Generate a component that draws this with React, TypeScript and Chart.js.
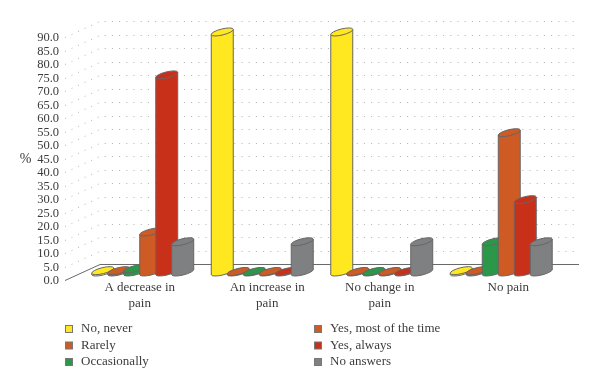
import React, { useEffect, useRef } from "react";
import { Chart, registerables } from "chart.js";

Chart.register(...registerables);

const categories = [["A decrease in", "pain"], ["An increase in", "pain"], ["No change in", "pain"], ["No pain"]];
const noNever = [0.5, 88.9, 88.9, 0.5];
const rarely = [0.5, 0.2, 0.2, 0.5];
const occasionally = [1.2, 0.2, 0.2, 11.2];
const mostOfTime = [14.8, 0.2, 0.2, 51.6];
const always = [73, 0.2, 0.2, 26.8];
const noAnswers = [11.2, 11.2, 11.2, 11.2];

const seriesNames = ["No, never", "Rarely", "Occasionally", "Yes, most of the time", "Yes, always", "No answers"];
const seriesColors = ["#FFE81F", "#CE5A24", "#2A9848", "#CE5A24", "#C9301A", "#7F8082"];
const seriesValues = [noNever, rarely, occasionally, mostOfTime, always, noAnswers];

const FONT = '"Liberation Serif", serif';
const TEXT = "#3c3c3c";
const depth = { x: 35, y: -16 };
const barOffset = { x: 18, y: -8 };
const labelShift = [15, 23, 16, 25];

const wallsPlugin = {
  id: "walls",
  beforeDatasetsDraw(chart: any) {
    const { ctx, scales, chartArea } = chart;
    const y = scales.y;
    ctx.save();
    ctx.lineWidth = 1;
    y.ticks.forEach((t: any) => {
      const py = Math.round(y.getPixelForValue(t.value)) + 0.5;
      const isFloor = t.value === 0;
      ctx.strokeStyle = isFloor ? "#6a6a6a" : "#b0b0b0";
      ctx.setLineDash(isFloor ? [] : [1, 6.2]);
      ctx.beginPath();
      ctx.moveTo(chartArea.left, py);
      ctx.lineTo(chartArea.left + depth.x, py + depth.y);
      ctx.lineTo(chartArea.right + depth.x + 1, py + depth.y);
      ctx.stroke();
    });
    ctx.restore();
  },
};

const cylinderPlugin = {
  id: "cylinders",
  beforeDatasetsDraw(chart: any) {
    const { ctx, scales } = chart;
    const base = scales.y.getPixelForValue(0) + barOffset.y;
    const tilt = (-14 * Math.PI) / 180;
    const ry = 3;
    chart.data.datasets.forEach((ds: any, di: number) => {
      chart.getDatasetMeta(di).data.forEach((bar: any) => {
        const rx = bar.width / 2;
        const dy = rx * Math.sin(-tilt) * 0.95;
        const cx = bar.x + barOffset.x;
        const top = bar.y + barOffset.y;
        ctx.save();
        ctx.fillStyle = ds.backgroundColor;
        ctx.strokeStyle = "#666666";
        ctx.lineWidth = 1;
        ctx.beginPath();
        ctx.ellipse(cx, base, rx + 0.4, ry, tilt, 0, Math.PI * 2);
        ctx.fill();
        ctx.stroke();
        ctx.beginPath();
        ctx.moveTo(cx - rx, top + dy);
        ctx.lineTo(cx - rx, base + dy);
        ctx.lineTo(cx + rx, base - dy);
        ctx.lineTo(cx + rx, top - dy);
        ctx.closePath();
        ctx.fill();
        ctx.beginPath();
        ctx.moveTo(cx - rx, top + dy);
        ctx.lineTo(cx - rx, base + dy);
        ctx.moveTo(cx + rx, top - dy);
        ctx.lineTo(cx + rx, base - dy);
        ctx.stroke();
        ctx.beginPath();
        ctx.ellipse(cx, top, rx + 0.4, ry, tilt, 0, Math.PI * 2);
        ctx.fill();
        ctx.stroke();
        ctx.restore();
      });
    });
    return false;
  },
};

const labelShiftPlugin = {
  id: "labelShift",
  afterUpdate(chart: any) {
    chart.scales.x.getLabelItems().forEach((item: any, i: number) => {
      item.options.translation[0] += labelShift[i] ?? 0;
    });
    chart.scales.y.getLabelItems().forEach((item: any) => {
      item.options.translation[1] += 1;
    });
  },
};

const legendPlugin = {
  id: "gridLegend",
  afterDraw(chart: any) {
    const { ctx } = chart;
    const columns = [65, 314];
    const rows = [329, 345.5, 362];
    ctx.save();
    ctx.font = `13px ${FONT}`;
    ctx.textBaseline = "middle";
    ctx.textAlign = "left";
    chart.data.datasets.forEach((ds: any, i: number) => {
      const x = columns[Math.floor(i / 3)];
      const y = rows[i % 3];
      ctx.fillStyle = ds.backgroundColor;
      ctx.strokeStyle = "#777";
      ctx.lineWidth = 1;
      ctx.fillRect(x + 0.5, y - 3.5, 7, 7);
      ctx.strokeRect(x + 0.5, y - 3.5, 7, 7);
      ctx.fillStyle = TEXT;
      ctx.fillText(ds.label, x + 16, y);
    });
    ctx.font = `14px ${FONT}`;
    ctx.fillStyle = TEXT;
    ctx.textAlign = "center";
    ctx.fillText("%", 25.5, 159);
    ctx.restore();
  },
};

export default function App() {
  const ref = useRef<HTMLCanvasElement>(null);
  useEffect(() => {
    const chart = new Chart(ref.current as HTMLCanvasElement, {
      type: "bar",
      data: {
        labels: categories as any,
        datasets: seriesNames.map((name, i) => ({
          label: name,
          data: seriesValues[i],
          backgroundColor: seriesColors[i],
          categoryPercentage: 0.803,
          barPercentage: 1.375,
        })),
      },
      options: {
        animation: false,
        responsive: false,
        layout: { padding: { top: 37, right: 57, left: 0, bottom: 0 } },
        plugins: { legend: { display: false }, tooltip: { enabled: false }, title: { display: false } },
        scales: {
          x: {
            grid: { display: false, drawTicks: false },
            border: { display: false },
            ticks: { color: TEXT, font: { family: FONT, size: 13, lineHeight: 1.23 }, padding: 0, maxRotation: 0, autoSkip: false },
            afterFit(scale: any) {
              scale.height = 110;
            },
          },
          y: {
            min: 0,
            max: 90,
            grid: { display: false, drawTicks: false },
            border: { display: false },
            ticks: {
              stepSize: 5,
              autoSkip: false,
              padding: 6,
              color: TEXT,
              font: { family: FONT, size: 12.5 },
              callback: (v: any) => Number(v).toFixed(1),
            },
            afterFit(scale: any) {
              scale.width = 65;
            },
          },
        },
      },
      plugins: [wallsPlugin, cylinderPlugin, labelShiftPlugin, legendPlugin],
    } as any);
    return () => chart.destroy();
  }, []);
  return (
    <canvas
      ref={ref}
      width={600}
      height={390}
      style={{ position: "absolute", left: 0, top: 0, width: 600, height: 390 }}
    />
  );
}
